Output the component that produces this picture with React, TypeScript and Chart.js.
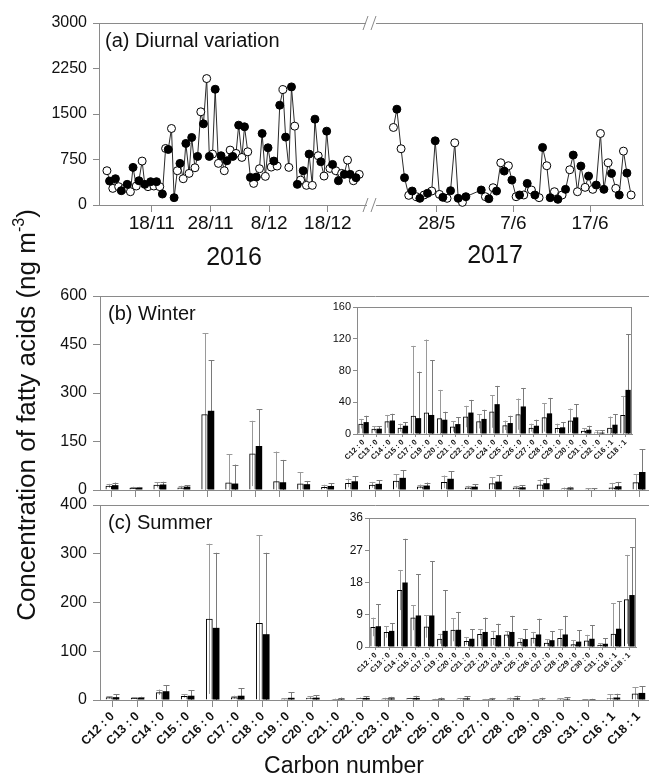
import React, { useEffect, useRef } from "react";
import { Chart, registerables } from "chart.js";

Chart.register(...registerables);

const FONT = "'Liberation Sans', Arial, Helvetica, sans-serif";
const AXIS_COLOR = "#8a8a8a";
const TEXT_COLOR = "#111111";
Chart.defaults.font.family = FONT;

// ---------------- Panel (a): diurnal variation ----------------
// sampling offsets within a day (day sample / night sample)
const DAY_OFFSET = 0.35;
const NIGHT_OFFSET = 0.8;

// 2016: index 0 = 10/11 (days counted from 1 Nov 2016)
const START_2016 = 9;
const DAY_2016 = [
  565, 274, 302, 274, 219, 313, 724, 302, 313, 302, 932, 1261, 565, 433, 521, 614, 1536, 2084, 839, 686, 565, 905,
  850, 784, 877, 356, 598, 472, 625, 642, 1903, 620, 1300, 411, 324, 324, 812, 477, 603, 565, 521, 740, 400, 505,
];
const NIGHT_2016 = [
  395, 433, 236, 340, 620, 400, 340, 384, 384, 181, 916, 121, 686, 1015, 1113, 801, 1338, 801, 1908, 812, 729, 801,
  1316, 1289, 455, 461, 1179, 943, 724, 1645, 1119, 1947, 340, 565, 839, 1415, 713, 1217, 669, 400, 505, 505, 450,
];
const TICKS_2016 = [17, 27, 37, 47];
const TICK_LABELS_2016 = ["18/11", "28/11", "8/12", "18/12"];

// 2017: index 0 = 22/5 (days counted from 1 May 2017)
const START_2017 = 21;
const DAY_2017 = [
  1278, 927, 159, 137, 165, 230, 175, 110, 1025, 44, null, null, 137, 285, 696, 647, 137, 165, 247, 121, 647, 219,
  165, 581, 219, 291, 258, 1179, 696, 274, 888, 165,
];
const NIGHT_2017 = [
  1579, 450, 230, 110, 192, 1058, 126, 236, 110, 137, null, 247, 104, 230, 559, 411, 165, 356, 165, 949, 121, 93,
  258, 823, 642, 477, 329, 258, 521, 165, 526, null,
];
const TICKS_2017 = [27, 37, 47];
const TICK_LABELS_2017 = ["28/5", "7/6", "17/6"];

// ---------------- Panel (b): winter ----------------
const WINTER_LABELS = [
  "C12 : 0", "C13 : 0", "C14 : 0", "C15 : 0", "C16 : 0", "C17 : 0", "C18 : 0", "C19 : 0", "C20 : 0", "C21 : 0",
  "C22 : 0", "C23 : 0", "C24 : 0", "C25 : 0", "C26 : 0", "C27 : 0", "C28 : 0", "C29 : 0", "C30 : 0", "C31 : 0",
  "C32 : 0", "C16 : 1", "C18 : 1",
];
const WINTER_DAY_MEAN = [13, 6.7, 16, 8, 234, 23, 113, 27, 20, 9.6, 22, 16, 28.4, 11, 25, 8, 21, 7.5, 17, 4.2, 2, 8, 24];
const WINTER_DAY_SD = [6, 3.3, 8, 5, 251, 88, 101, 92, 35.6, 6.7, 13.5, 9, 20.6, 6, 19.7, 5, 18, 5.5, 15, 3.3, 3, 14, 24];
const WINTER_NIGHT_MEAN = [
  15, 6.7, 17, 10.4, 245, 20, 136, 24, 18, 12.5, 27, 19, 37.6, 13.8, 34.7, 10.4, 26, 8.4, 21, 5.4, 1.7, 11.7, 55.6,
];
const WINTER_NIGHT_SD = [
  8, 2.9, 8.5, 4.6, 156, 58.5, 114, 69, 10, 8.5, 16, 11.5, 23, 9.2, 23.3, 7.6, 19.5, 6.6, 16.6, 5, 3.3, 13.3, 70,
];

// ---------------- Panel (c): summer ----------------
const SUMMER_LABELS = [
  "C12 : 0", "C13 : 0", "C14 : 0", "C15 : 0", "C16 : 0", "C17 : 0", "C18 : 0", "C19 : 0", "C20 : 0", "C21 : 0",
  "C22 : 0", "C23 : 0", "C24 : 0", "C25 : 0", "C26 : 0", "C27 : 0", "C28 : 0", "C29 : 0", "C30 : 0", "C31 : 0",
  "C16 : 1", "C18 : 1",
];
const SUMMER_DAY_MEAN = [
  5.6, 4.2, 15.9, 8.2, 166.5, 5.7, 158, 2.3, 4.8, 1.7, 3.6, 2.5, 3.5, 1.5, 2.6, 1.2, 2.5, 0.8, 1.8, 0.6, 3.7, 13.3,
];
const SUMMER_DAY_SD = [2.6, 1.6, 5.6, 3.5, 154, 3.1, 180, 1.4, 3.2, 1.1, 1.4, 2, 0.9, 1, 1.6, 1, 2.4, 1.1, 1.6, 0.5, 8.5, 12.4];
const SUMMER_NIGHT_MEAN = [
  5.8, 4.5, 18, 8.8, 148, 8.8, 135, 4.5, 4.8, 2.3, 4.2, 3.3, 4.2, 2.2, 3.5, 1.9, 3.5, 1.5, 2.3, 0.9, 5.1, 14.5,
];
const SUMMER_NIGHT_SD = [
  6.1, 2.2, 12.2, 11.5, 154, 15.2, 167, 11.4, 5, 2.7, 4, 3.2, 4.5, 2.8, 4.4, 2.5, 5.2, 3.2, 3.8, 1.6, 7.7, 13.4,
];

// compounds left out of the zoomed insets
const INSET_SKIP = ["C16 : 0", "C18 : 0"];

// ---------------- plugins ----------------
const framePlugin: any = {
  id: "frame",
  afterDraw(chart: any, _args: any, opts: any) {
    const { left, right, top, bottom } = chart.chartArea;
    const ctx = chart.ctx;
    ctx.save();
    ctx.strokeStyle = opts.color || AXIS_COLOR;
    ctx.lineWidth = 1;
    ctx.beginPath();
    if (opts.top) {
      ctx.moveTo(left, top + 0.5);
      ctx.lineTo(right, top + 0.5);
    }
    if (opts.right) {
      ctx.moveTo(right - 0.5, top);
      ctx.lineTo(right - 0.5, bottom);
    }
    if (opts.breakRight) {
      for (const y of [top, bottom]) {
        ctx.moveTo(right - 3, y + 7);
        ctx.lineTo(right + 2, y - 7);
        ctx.moveTo(right + 5, y + 7);
        ctx.lineTo(right + 10, y - 7);
      }
    }
    ctx.stroke();
    ctx.restore();
  },
};

const errorBarPlugin: any = {
  id: "errbars",
  beforeDatasetsDraw(chart: any) {
    const ctx = chart.ctx;
    const ys = chart.scales.y;
    chart.data.datasets.forEach((ds: any, i: number) => {
      if (!ds.sd) return;
      const meta = chart.getDatasetMeta(i);
      meta.data.forEach((bar: any, j: number) => {
        const v = ds.data[j];
        const s = ds.sd[j];
        const top = ys.getPixelForValue(v + s);
        const bot = ys.getPixelForValue(Math.max(0, v - s));
        const half = bar.width * 0.45;
        const x = Math.round(bar.x) + 0.5;
        ctx.save();
        ctx.strokeStyle = ds.errColor;
        ctx.lineWidth = 1;
        ctx.beginPath();
        ctx.moveTo(x, bot);
        ctx.lineTo(x, top);
        ctx.moveTo(x - half, Math.round(top) + 0.5);
        ctx.lineTo(x + half, Math.round(top) + 0.5);
        ctx.stroke();
        ctx.restore();
      });
    });
  },
};

// ---------------- chart layout helper ----------------
type Box = { l: number; t: number; r: number; b: number; yW: number; xH: number; pad: number };

const BOX_A16: Box = { l: 99, t: 23, r: 366, b: 205, yW: 50, xH: 35, pad: 20 };
const BOX_A17: Box = { l: 376, t: 23, r: 643, b: 205, yW: 0, xH: 35, pad: 20 };
const BOX_B: Box = { l: 100, t: 296, r: 651, b: 490, yW: 50, xH: 10, pad: 20 };
const BOX_C: Box = { l: 100, t: 505, r: 651, b: 700, yW: 50, xH: 60, pad: 20 };
const BOX_BI: Box = { l: 357, t: 307, r: 632, b: 434, yW: 30, xH: 30, pad: 12 };
const BOX_CI: Box = { l: 369, t: 518, r: 636, b: 647, yW: 30, xH: 30, pad: 12 };

function ChartCanvas({ box, make }: { box: Box; make: () => any }) {
  const ref = useRef<HTMLCanvasElement | null>(null);
  const w = Math.round(box.r - box.l + box.yW + 2 * box.pad);
  const h = Math.round(box.b - box.t + box.xH + 2 * box.pad);
  const left = Math.round(box.l - box.yW - box.pad);
  const top = Math.round(box.t - box.pad);
  useEffect(() => {
    const chart = new Chart(ref.current as HTMLCanvasElement, make());
    return () => chart.destroy();
  }, []);
  return (
    <canvas
      ref={ref}
      width={w}
      height={h}
      style={{ position: "absolute", left, top, width: w, height: h }}
    />
  );
}

function yAxis(max: number, step: number, size: number, box: Box, tickLen: number, pad: number) {
  return {
    min: 0,
    max,
    ticks: {
      stepSize: step,
      color: TEXT_COLOR,
      font: { family: FONT, size },
      padding: pad,
      callback: (v: any) => String(v),
    },
    grid: { drawOnChartArea: false, drawTicks: true, tickLength: tickLen, color: AXIS_COLOR },
    border: { display: true, color: AXIS_COLOR },
    afterFit: (s: any) => {
      s.width = box.yW;
    },
  };
}

function buildSeries(start: number, day: (number | null)[], night: (number | null)[]) {
  const open: { x: number; y: number }[] = [];
  const filled: { x: number; y: number }[] = [];
  day.forEach((v, i) => {
    if (v !== null) open.push({ x: start + i + DAY_OFFSET, y: v });
  });
  night.forEach((v, i) => {
    if (v !== null) filled.push({ x: start + i + NIGHT_OFFSET, y: v });
  });
  const all = [...open, ...filled].sort((a, b) => a.x - b.x);
  return { open, filled, all };
}

function timeConfig(
  box: Box,
  start: number,
  day: (number | null)[],
  night: (number | null)[],
  xMin: number,
  xMax: number,
  ticks: number[],
  tickLabels: string[],
  showY: boolean,
  frame: any
) {
  const s = buildSeries(start, day, night);
  return {
    type: "scatter",
    data: {
      datasets: [
        { data: s.all, showLine: true, borderColor: "#2a2a2a", borderWidth: 1, pointRadius: 0, order: 3, clip: false },
        {
          data: s.open,
          pointRadius: 4,
          pointBackgroundColor: "#ffffff",
          pointBorderColor: "#000000",
          pointBorderWidth: 1,
          order: 2,
          clip: false,
        },
        {
          data: s.filled,
          pointRadius: 4,
          pointBackgroundColor: "#000000",
          pointBorderColor: "#000000",
          pointBorderWidth: 1,
          order: 1,
          clip: false,
        },
      ],
    },
    options: {
      responsive: false,
      animation: false,
      events: [],
      layout: { padding: box.pad },
      plugins: { legend: { display: false }, tooltip: { enabled: false }, frame },
      scales: {
        x: {
          type: "linear",
          min: xMin,
          max: xMax,
          afterBuildTicks: (ax: any) => {
            ax.ticks = ticks.map((v) => ({ value: v }));
          },
          ticks: {
            callback: (_v: any, i: number) => tickLabels[i],
            font: { family: FONT, size: 19 },
            color: TEXT_COLOR,
            padding: 0,
            maxRotation: 0,
            autoSkip: false,
          },
          grid: { drawOnChartArea: false, drawTicks: true, tickLength: 7, color: AXIS_COLOR },
          border: { display: true, color: AXIS_COLOR },
          afterFit: (sc: any) => {
            sc.height = box.xH;
          },
        },
        y: showY ? yAxis(3000, 750, 16, box, 6, 6) : { display: false, min: 0, max: 3000 },
      },
    },
    plugins: [framePlugin],
  };
}

function barConfig(p: any) {
  const box: Box = p.box;
  return {
    type: "bar",
    data: {
      labels: p.labels,
      datasets: [
        {
          data: p.dayMean,
          sd: p.daySd,
          errColor: "#9a9a9a",
          backgroundColor: "rgba(255,255,255,0)",
          borderColor: "#000000",
          borderWidth: 1,
          categoryPercentage: p.catPct,
          barPercentage: 1,
        },
        {
          data: p.nightMean,
          sd: p.nightSd,
          errColor: "#7a7a7a",
          backgroundColor: "#000000",
          borderColor: "#000000",
          borderWidth: 0,
          categoryPercentage: p.catPct,
          barPercentage: 1,
        },
      ],
    },
    options: {
      responsive: false,
      animation: false,
      events: [],
      layout: { padding: box.pad },
      plugins: { legend: { display: false }, tooltip: { enabled: false }, frame: p.frame },
      scales: {
        x: {
          type: "category",
          offset: true,
          ticks: {
            display: p.showXLabels,
            font: { family: FONT, size: p.xFont, weight: "bold" },
            color: TEXT_COLOR,
            minRotation: 45,
            maxRotation: 45,
            autoSkip: false,
            padding: p.xPad,
          },
          grid: { offset: false, drawOnChartArea: false, drawTicks: true, tickLength: p.xTick, color: AXIS_COLOR },
          border: { display: true, color: AXIS_COLOR },
          afterFit: (sc: any) => {
            sc.height = box.xH;
          },
        },
        y: yAxis(p.yMax, p.yStep, p.yFont, box, p.yTick, p.yPad),
      },
    },
    plugins: [framePlugin, errorBarPlugin],
  };
}

const keep = (labels: string[]) => (arr: any[]) => arr.filter((_, i) => !INSET_SKIP.includes(labels[i]));

const makeA16 = () =>
  timeConfig(BOX_A16, START_2016, DAY_2016, NIGHT_2016, 8, 53.5, TICKS_2016, TICK_LABELS_2016, true, {
    top: true,
    breakRight: true,
  });
const makeA17 = () =>
  timeConfig(BOX_A17, START_2017, DAY_2017, NIGHT_2017, 19.08, 53.9, TICKS_2017, TICK_LABELS_2017, false, {
    top: true,
    right: true,
  });

const makeB = () =>
  barConfig({
    box: BOX_B,
    labels: WINTER_LABELS,
    dayMean: WINTER_DAY_MEAN,
    daySd: WINTER_DAY_SD,
    nightMean: WINTER_NIGHT_MEAN,
    nightSd: WINTER_NIGHT_SD,
    catPct: 0.54,
    showXLabels: false,
    xFont: 12,
    xPad: 2,
    xTick: 7,
    yMax: 600,
    yStep: 150,
    yFont: 16,
    yTick: 7,
    yPad: 6,
    frame: { top: true },
  });

const makeC = () =>
  barConfig({
    box: BOX_C,
    labels: SUMMER_LABELS,
    dayMean: SUMMER_DAY_MEAN,
    daySd: SUMMER_DAY_SD,
    nightMean: SUMMER_NIGHT_MEAN,
    nightSd: SUMMER_NIGHT_SD,
    catPct: 0.54,
    showXLabels: true,
    xFont: 12.5,
    xPad: 2,
    xTick: 7,
    yMax: 400,
    yStep: 100,
    yFont: 16,
    yTick: 7,
    yPad: 6,
    frame: { top: true },
  });

const kw = keep(WINTER_LABELS);
const makeBI = () =>
  barConfig({
    box: BOX_BI,
    labels: kw(WINTER_LABELS),
    dayMean: kw(WINTER_DAY_MEAN),
    daySd: kw(WINTER_DAY_SD),
    nightMean: kw(WINTER_NIGHT_MEAN),
    nightSd: kw(WINTER_NIGHT_SD),
    catPct: 0.8,
    showXLabels: true,
    xFont: 7.5,
    xPad: 1,
    xTick: 3,
    yMax: 160,
    yStep: 40,
    yFont: 11,
    yTick: 4,
    yPad: 2,
    frame: { top: true, right: true },
  });

const ks = keep(SUMMER_LABELS);
const makeCI = () =>
  barConfig({
    box: BOX_CI,
    labels: ks(SUMMER_LABELS),
    dayMean: ks(SUMMER_DAY_MEAN),
    daySd: ks(SUMMER_DAY_SD),
    nightMean: ks(SUMMER_NIGHT_MEAN),
    nightSd: ks(SUMMER_NIGHT_SD),
    catPct: 0.8,
    showXLabels: true,
    xFont: 7.5,
    xPad: 1,
    xTick: 3,
    yMax: 36,
    yStep: 9,
    yFont: 12,
    yTick: 4,
    yPad: 2,
    frame: { top: true, right: true },
  });

const txt = (size: number): React.CSSProperties => ({
  position: "absolute",
  fontFamily: FONT,
  fontSize: size,
  lineHeight: 1,
  color: TEXT_COLOR,
  whiteSpace: "nowrap",
});

export default function App() {
  return (
    <div
      style={{
        position: "absolute",
        left: 0,
        top: 0,
        width: 649,
        height: 778,
        overflow: "hidden",
        background: "#ffffff",
      }}
    >
      <ChartCanvas box={BOX_A16} make={makeA16} />
      <ChartCanvas box={BOX_A17} make={makeA17} />
      <ChartCanvas box={BOX_B} make={makeB} />
      <ChartCanvas box={BOX_C} make={makeC} />
      <ChartCanvas box={BOX_BI} make={makeBI} />
      <ChartCanvas box={BOX_CI} make={makeCI} />

      <div style={{ ...txt(20), left: 105, top: 30 }}>(a) Diurnal variation</div>
      <div style={{ ...txt(20), left: 108, top: 302.7 }}>(b) Winter</div>
      <div style={{ ...txt(20), left: 108, top: 511.7 }}>(c) Summer</div>
      <div style={{ ...txt(25), left: 184, width: 100, textAlign: "center", top: 244 }}>2016</div>
      <div style={{ ...txt(25), left: 445, width: 100, textAlign: "center", top: 242 }}>2017</div>
      <div style={{ ...txt(23), left: 194, width: 300, textAlign: "center", top: 754 }}>Carbon number</div>
      <div
        style={{
          ...txt(26),
          left: 23 - 250,
          top: 415 - 13,
          width: 500,
          height: 26,
          textAlign: "center",
          transform: "rotate(-90deg)",
          transformOrigin: "50% 50%",
        }}
      >
        Concentration of fatty acids (ng m<span style={{ fontSize: "0.62em", verticalAlign: "0.7em" }}>-3</span>)
      </div>
    </div>
  );
}
